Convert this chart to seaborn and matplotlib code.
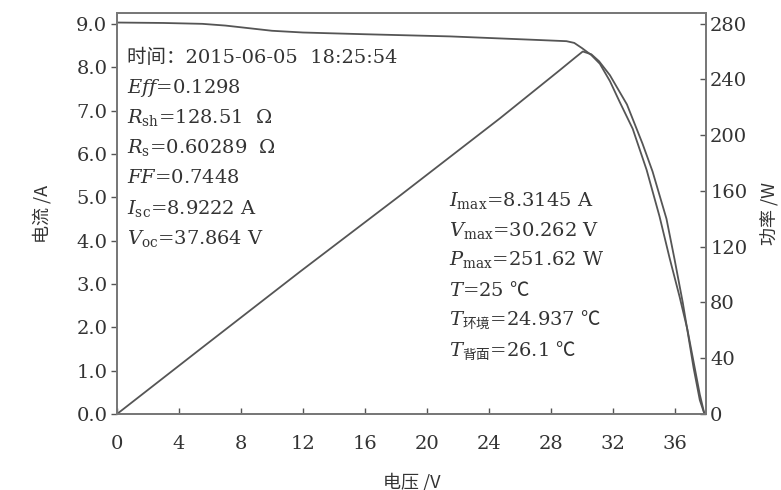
import matplotlib
matplotlib.use("Agg")
import matplotlib.pyplot as plt
import seaborn as sns
import pandas as pd

# ---- data ----
iv_voltage = [0, 3.0, 5.5, 7.0, 8.5, 10.0, 12.0, 16.0, 21.5, 27.0, 29.0, 29.5, 30.0, 30.6,
              31.15, 31.8, 32.43, 33.27, 34.17, 35.0, 35.65, 36.3, 36.8, 37.2, 37.6, 37.9]
iv_current = [9.03, 9.02, 9.0, 8.96, 8.90, 8.84, 8.80, 8.76, 8.71, 8.63, 8.60, 8.56, 8.44, 8.28,
              8.08, 7.68, 7.20, 6.58, 5.63, 4.56, 3.60, 2.70, 1.95, 1.20, 0.45, 0.0]

pw_voltage = [0, 5.4, 11.8, 18.3, 24.7, 28.5, 29.6, 30.05, 30.6, 31.1, 31.8, 32.9, 33.9,
              34.55, 35.45, 35.97, 36.5, 36.8, 37.2, 37.6, 37.9]
pw_power = [0, 46.8, 102.0, 157.0, 212.0, 246.0, 256.0, 260.0, 258.0, 253.0, 243.0, 222.0, 194.0,
            174.0, 140.0, 111.0, 80.0, 60.0, 33.0, 10.0, 0.0]

x_ticks = [0, 4, 8, 12, 16, 20, 24, 28, 32, 36]
left_ticks = [0, 1, 2, 3, 4, 5, 6, 7, 8, 9]
right_ticks = [0, 40, 80, 120, 160, 200, 240, 280]

left_notes = ["时间：2015-06-05  18:25:54",
              r"$Eff$=0.1298",
              r"$R_{\mathrm{sh}}$=128.51  Ω",
              r"$R_{\mathrm{s}}$=0.60289  Ω",
              r"$FF$=0.7448",
              r"$I_{\mathrm{sc}}$=8.9222 A",
              r"$V_{\mathrm{oc}}$=37.864 V"]
right_notes = [r"$I_{\mathrm{max}}$=8.3145 A",
               r"$V_{\mathrm{max}}$=30.262 V",
               r"$P_{\mathrm{max}}$=251.62 W",
               r"$T$=25 $\mathsf{℃}$",
               r"$T_{\mathsf{环境}}$=24.937 $\mathsf{℃}$",
               r"$T_{\mathsf{背面}}$=26.1 $\mathsf{℃}$"]

sns.set_style("ticks")
plt.rcParams['font.family'] = ['DejaVu Serif', 'Noto Sans CJK SC', 'DejaVu Sans']
plt.rcParams['mathtext.fontset'] = 'custom'
plt.rcParams['mathtext.it'] = 'DejaVu Serif:italic'
plt.rcParams['mathtext.rm'] = 'DejaVu Serif'
plt.rcParams['mathtext.sf'] = 'Noto Sans CJK SC'

grey = "#555555"
txt = "#333333"

fig = plt.figure(figsize=(7.81, 4.90), dpi=100)
ax = fig.add_axes([117/781, 1 - 414/490, 589/781, 401/490])
ax2 = ax.twinx()

iv_df = pd.DataFrame({"V": iv_voltage, "I": iv_current})
pw_df = pd.DataFrame({"V": pw_voltage, "P": pw_power})
sns.lineplot(data=iv_df, x="V", y="I", ax=ax, color=grey, lw=1.3, sort=False)
sns.lineplot(data=pw_df, x="V", y="P", ax=ax2, color=grey, lw=1.3, sort=False)

ax.set_xlim(0, 38)
ax.set_ylim(0, 9.25)
ax2.set_ylim(0, 287.6)

ax.set_xticks(x_ticks)
ax.set_xticklabels([str(t) for t in x_ticks])
ax.set_yticks(left_ticks)
ax.set_yticklabels([f"{t:.1f}" for t in left_ticks])
ax2.set_yticks(right_ticks)
ax2.set_yticklabels([str(t) for t in right_ticks])

ax.tick_params(axis='x', direction='in', length=4, width=1, colors=grey, labelcolor=txt,
               labelsize=14, pad=15)
ax.tick_params(axis='y', direction='out', length=4, width=1, colors=grey, labelcolor=txt,
               labelsize=14, pad=3)
ax2.tick_params(axis='y', direction='in', length=4, width=1, colors=grey, labelcolor=txt,
                labelsize=14, pad=3)

for a in (ax, ax2):
    for s in a.spines.values():
        s.set_visible(True)
        s.set_color("#777777")
        s.set_linewidth(1.3)

lab_font = dict(family=['Noto Sans CJK SC', 'DejaVu Sans'], fontsize=13, color=txt)
ax.set_xlabel("电压 /V", labelpad=14, **lab_font)
ax.set_ylabel("电流 /A", labelpad=18, **lab_font)
ax2.set_ylabel("功率 /W", labelpad=10, rotation=90, **lab_font)

def px_to_axes(px, py):
    return (px - 117) / 589, (414 - py) / 401

for i, s in enumerate(left_notes):
    xa, ya = px_to_axes(127, 58 + 30 * i)
    ax.text(xa, ya, s, transform=ax.transAxes, fontsize=14, color=txt, va='center', ha='left')

for i, s in enumerate(right_notes):
    xa, ya = px_to_axes(449, 200 + 30 * i)
    ax.text(xa, ya, s, transform=ax.transAxes, fontsize=14, color=txt, va='center', ha='left')

fig.savefig("out.png", dpi=100, facecolor="white")
